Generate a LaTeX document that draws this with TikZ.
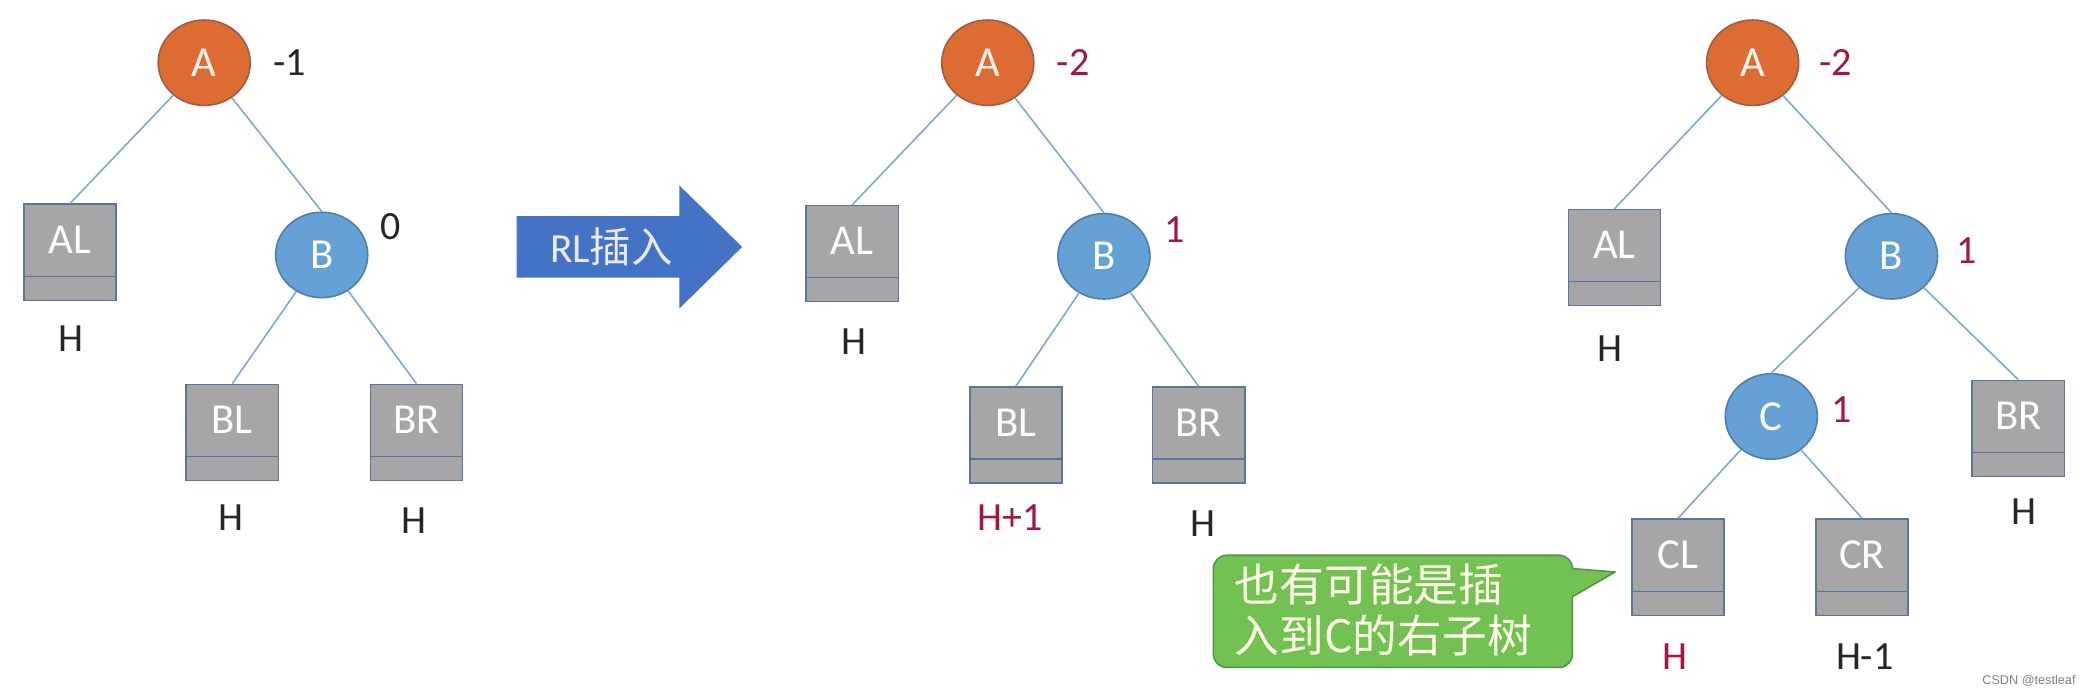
\documentclass[tikz,border=0pt]{standalone}
\usepackage{fontspec}
\setmainfont{Carlito}
\newfontfamily\cjk{Noto Sans CJK SC}
\newfontfamily\wmfont{Liberation Sans}
\usetikzlibrary{shapes.geometric}
\definecolor{avlRoot}{HTML}{DC6C31}
\definecolor{avlRootLine}{HTML}{9C5E44}
\definecolor{avlNode}{HTML}{65A1D4}
\definecolor{avlNodeLine}{HTML}{4D7FAE}
\definecolor{avlTree}{HTML}{A6A6A6}
\definecolor{avlTreeLine}{HTML}{5A7599}
\definecolor{avlEdge}{HTML}{7FA9D3}
\definecolor{avlRed}{HTML}{A3193E}
\definecolor{avlArrow}{HTML}{4472C4}
\definecolor{avlNote}{HTML}{72C152}
\definecolor{avlNoteLine}{HTML}{4E9648}
\tikzset{
  avlnode/.style={
    ellipse, draw=avlNodeLine, fill=avlNode, line width=1.2pt,
    minimum width=69pt, minimum height=64pt, inner sep=0pt,
    text=white, font=\fontsize{32}{36}\selectfont
  },
  avlroot/.style={avlnode, fill=avlRoot, draw=avlRootLine, text=white!92!orange},
  subtree/.style={
    rectangle, draw=avlTreeLine, fill=avlTree, line width=1.2pt,
    minimum width=69pt, minimum height=72pt, inner sep=0pt,
    text=white, font=\fontsize{32}{36}\selectfont,
    text height=11pt, text depth=9pt,
    path picture={\draw[avlTreeLine, line width=1.2pt]
      ([yshift=18pt]path picture bounding box.south west) --
      ([yshift=18pt]path picture bounding box.south east);}
  },
  treeedge/.style={draw=avlEdge, line width=1.2pt},
  bfac/.style={font=\fontsize{30}{34}\selectfont, text=black!85},
  bfred/.style={bfac, text=avlRed},
  arrowtext/.style={font=\fontsize{31}{36}\selectfont, text=white!92!blue},
  note/.style={fill=avlNote, draw=avlNoteLine, line width=1.2pt, line join=round},
  notetext/.style={font=\cjk\fontsize{33.5}{38}\selectfont, text=white!90!yellow,
    align=left, inner sep=0pt}
}
\begin{document}
\begin{tikzpicture}[x=1pt, y=-1pt]
  \fill[white] (0,0) rectangle (1568,524);
  \useasboundingbox (0,0) rectangle (1568,524);

  % before insertion
  \node[avlroot] (A1) at (153,47) {A};
  \node[subtree] (AL1) at (52.5,189) {AL};
  \node[avlnode] (B1) at (241,191) {B};
  \node[subtree] (BL1) at (174,324) {BL};
  \node[subtree] (BR1) at (312,324) {BR};
  \draw[treeedge] (A1) -- (AL1.north);
  \draw[treeedge] (A1) -- (B1.north);
  \draw[treeedge] (B1) -- (BL1.north);
  \draw[treeedge] (B1) -- (BR1.north);
  \node[bfac] (bfA1) at (217,47) {-1};
  \node[bfac] (bfB1) at (293,170) {0};
  \node[bfac] (hAL1) at (53,254) {H};
  \node[bfac] (hBL1) at (173,388) {H};
  \node[bfac] (hBR1) at (310,390) {H};

  % arrow
  \fill[avlArrow] (387,162) -- (509,162) -- (509,139) -- (556,185)
    -- (509,231) -- (509,208) -- (387,208) -- cycle;
  \node[arrowtext] (rl) at (458,185) {RL{\cjk 插入}};

  % after insertion
  \node[avlroot] (A2) at (740,47) {A};
  \node[subtree] (AL2) at (638.5,190) {AL};
  \node[avlnode] (B2) at (827,192) {B};
  \node[subtree] (BL2) at (761,326) {BL};
  \node[subtree] (BR2) at (898,326) {BR};
  \draw[treeedge] (A2) -- (AL2.north);
  \draw[treeedge] (A2) -- (B2.north);
  \draw[treeedge] (B2) -- (BL2.north);
  \draw[treeedge] (B2) -- (BR2.north);
  \node[bfred] (bfA2) at (804,47) {-2};
  \node[bfred] (bfB2) at (880,172) {1};
  \node[bfac] (hAL2) at (640,256) {H};
  \node[bfred] (hBL2) at (757,388) {H+1};
  \node[bfac] (hBR2) at (901,392) {H};

  % B's left subtree split
  \node[avlroot] (A3) at (1313,47) {A};
  \node[subtree] (AL3) at (1209.5,193) {AL};
  \node[avlnode] (B3) at (1417,192) {B};
  \node[avlnode] (C3) at (1327,312) {C};
  \node[subtree] (BR3) at (1512,321) {BR};
  \node[subtree] (CL3) at (1257,425) {CL};
  \node[subtree] (CR3) at (1395,425) {CR};
  \draw[treeedge] (A3) -- (AL3.north);
  \draw[treeedge] (A3) -- (B3.north);
  \draw[treeedge] (B3) -- (C3.north);
  \draw[treeedge] (B3) -- (BR3.north);
  \draw[treeedge] (C3) -- (CL3.north);
  \draw[treeedge] (C3) -- (CR3.north);
  \node[bfred] (bfA3) at (1375,47) {-2};
  \node[bfred] (bfB3) at (1473,188) {1};
  \node[bfred] (bfC3) at (1380,307) {1};
  \node[bfac] (hAL3) at (1206,261) {H};
  \node[bfac] (hBR3) at (1516,383) {H};
  \node[bfred] (hCL3) at (1255,492) {H};
  \node[bfac] (hCR3) at (1397,492) {H-1};

  % callout
  \filldraw[note] (1168,416) arc[start angle=-90, end angle=0, radius=10]
    -- (1210,428.5) -- (1178,447) -- (1178,490)
    arc[start angle=0, end angle=90, radius=10] -- (919,500)
    arc[start angle=90, end angle=180, radius=10] -- (909,426)
    arc[start angle=180, end angle=270, radius=10] -- cycle;
  \node[notetext, anchor=west] (tip) at (925,457) {也有可能是插\\入到C的右子树};

  \node[font=\wmfont\fontsize{9.5}{11}\selectfont, text=black!50] (wm) at (1520,510) {CSDN @testleaf};
\end{tikzpicture}
\end{document}
